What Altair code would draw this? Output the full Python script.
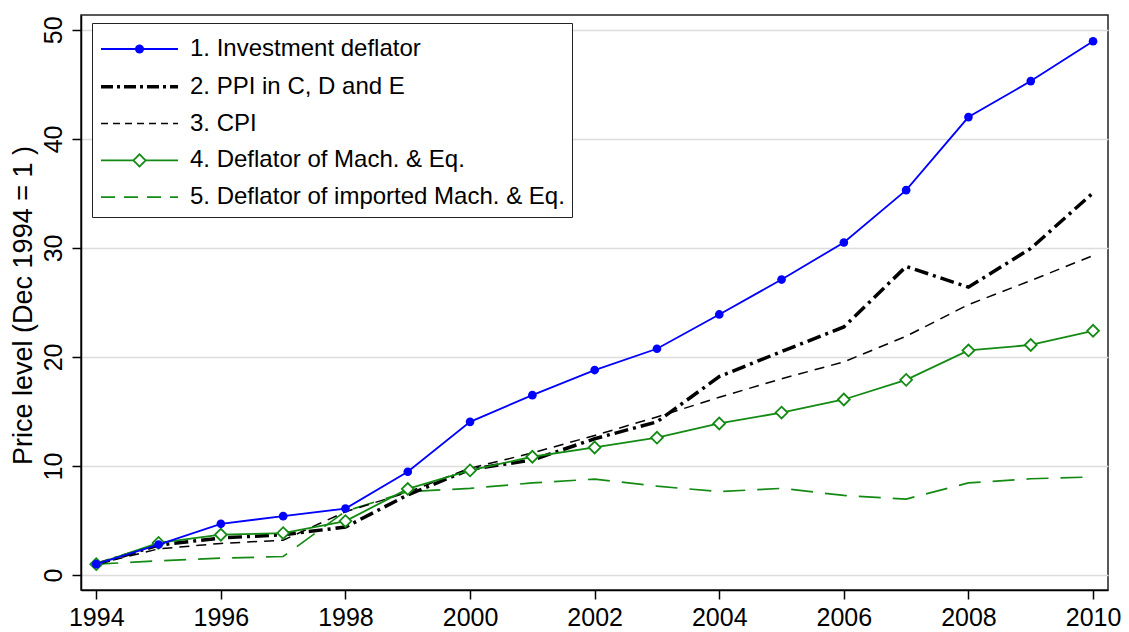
import altair as alt
import pandas as pd

years = list(range(1994, 2011))
invest = [1.0, 2.8, 4.7, 5.4, 6.1, 9.47, 14.05, 16.5, 18.8, 20.75, 23.9, 27.1, 30.5, 35.3, 42.0, 45.3, 48.95]
ppi = [1.0, 2.75, 3.4, 3.7, 4.4, 7.35, 9.7, 10.55, 12.5, 14.05, 18.2, 20.5, 22.75, 28.3, 26.4, 29.95, 35.05]
cpi = [1.0, 2.4, 2.9, 3.2, 5.8, 7.6, 9.8, 11.2, 12.8, 14.5, 16.3, 18.0, 19.55, 21.9, 24.8, 27.0, 29.3]
mach = [1.0, 2.95, 3.7, 3.85, 4.95, 7.9, 9.6, 10.85, 11.7, 12.6, 13.9, 14.9, 16.1, 17.9, 20.6, 21.1, 22.4]
imp = [1.0, 1.3, 1.55, 1.7, 5.85, 7.65, 7.95, 8.45, 8.8, 8.15, 7.65, 7.95, 7.3, 6.97, 8.45, 8.83, 9.0]

labels = [
    "1. Investment deflator",
    "2. PPI in C, D and E",
    "3. CPI",
    "4. Deflator of Mach. & Eq.",
    "5. Deflator of imported Mach. & Eq.",
]
x_ticks = list(range(1994, 2011, 2))
y_ticks = [0, 10, 20, 30, 40, 50]

rows = []
for lab, vals in zip(labels, [invest, ppi, cpi, mach, imp]):
    for yr, v in zip(years, vals):
        rows.append({"year": yr, "value": v, "series": lab})
df = pd.DataFrame(rows)

FONT = "Liberation Sans"
BLUE = "#0000ff"
GREEN = "#138a13"
BLACK = "#000000"

DASH_PPI = [14, 5, 3, 5]
DASH_CPI = [10, 7]
DASH_IMP = [22, 12]

xscale = alt.Scale(domain=[1993.755, 2010.24], nice=False, zero=False)
yscale = alt.Scale(domain=[-1.37, 51.36], nice=False, zero=False)

xenc = alt.X(
    "year:Q", scale=xscale,
    axis=alt.Axis(values=x_ticks, format="d", title=None, grid=False,
                  labelPadding=6, labelFlush=False),
)
yenc = alt.Y(
    "value:Q", scale=yscale,
    axis=alt.Axis(values=y_ticks, title="Price level  (Dec 1994 = 1 )",
                  labelAngle=270, labelAlign="center", labelBaseline="alphabetic",
                  labelPadding=11, titleAngle=270, titleX=-58, titleY=290,
                  titleAlign="center", titleBaseline="middle", titleFontSize=27,
                  titleFont=FONT, titleFontWeight="normal", titleColor="black"),
)

base = alt.Chart(df).encode(x=xenc, y=yenc)


def sel(lab):
    return base.transform_filter(alt.datum.series == lab)


l_imp = sel(labels[4]).mark_line(color=GREEN, strokeWidth=1.7, strokeDash=DASH_IMP)
l_cpi = sel(labels[2]).mark_line(color=BLACK, strokeWidth=1.5, strokeDash=DASH_CPI)
l_ppi = sel(labels[1]).mark_line(color=BLACK, strokeWidth=3.5, strokeDash=DASH_PPI)
l_mach = sel(labels[3]).mark_line(color=GREEN, strokeWidth=1.8)
p_mach = sel(labels[3]).mark_point(shape="diamond", filled=True, fill="white",
                                   stroke=GREEN, strokeWidth=1.8, size=140, opacity=1)
l_inv = sel(labels[0]).mark_line(color=BLUE, strokeWidth=1.8)
p_inv = sel(labels[0]).mark_point(shape="circle", filled=True, color=BLUE,
                                  size=75, opacity=1)

# legend symbols (unit = 18 px)
paths = [
    "M-1,0H3.28M0.94,0a0.2,0.2 0 1,0 0.4,0a0.2,0.2 0 1,0 -0.4,0",
    "M-1,0H3.28",
    "M-1,0H3.28",
    "M-1,0H0.8M1.48,0H3.28M0.8,0L1.14,-0.34L1.48,0L1.14,0.34Z",
    "M-1,0H3.28",
]
strokes = [BLUE, BLACK, BLACK, GREEN, GREEN]
fills = [BLUE, "transparent", "transparent", "white", "transparent"]
dashes = [[1, 0], [12, 4, 3, 4], [7, 5], [1, 0], [14, 9]]
widths = [1.8, 3.5, 1.5, 1.8, 1.7]

leg = alt.Legend(
    orient="none", legendX=11, legendY=8, title=None, symbolSize=1296,
    labelFontSize=24, labelFont=FONT, labelColor="black", labelOffset=51,
    padding=7, rowPadding=5.8, fillColor="white", strokeColor="#222",
    labelLimit=800,
)

legend_layer = base.transform_filter("false").mark_point(size=1296, opacity=1).encode(
    shape=alt.Shape("series:N", scale=alt.Scale(domain=labels, range=paths), legend=leg),
    stroke=alt.Stroke("series:N", scale=alt.Scale(domain=labels, range=strokes), legend=leg),
    fill=alt.Fill("series:N", scale=alt.Scale(domain=labels, range=fills), legend=leg),
    strokeDash=alt.StrokeDash("series:N", scale=alt.Scale(domain=labels, range=dashes), legend=leg),
    strokeWidth=alt.StrokeWidth("series:N", scale=alt.Scale(type="ordinal", domain=labels, range=widths), legend=leg),
)

chart = alt.layer(
    l_imp, l_cpi, l_ppi, l_mach, p_mach, l_inv, p_inv, legend_layer
).properties(
    width=1027, height=575,
    autosize=alt.AutoSizeParams(type="none"),
    padding={"left": 73, "top": 7, "right": 13, "bottom": 41},
).configure_view(
    stroke="#222", strokeWidth=1.5
).configure_axis(
    domainColor="black", domainWidth=1.5, tickColor="black", tickWidth=1.5,
    tickSize=9, gridColor="#dcdcdc", gridWidth=1.5, labelFont=FONT,
    labelFontSize=25, labelColor="black",
)

chart.save("out.html", embed_options={"renderer": "svg", "actions": False})
